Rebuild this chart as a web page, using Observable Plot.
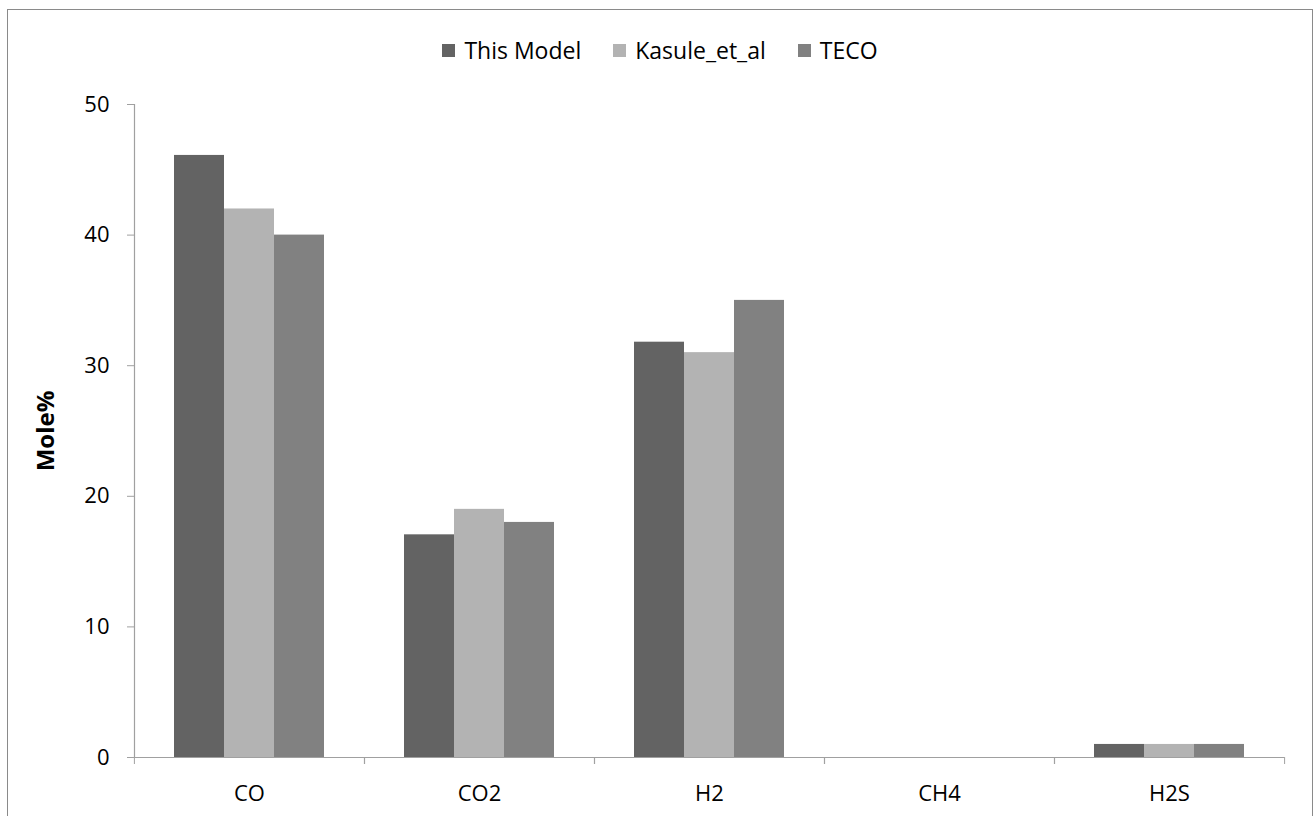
<!DOCTYPE html>
<html>
<head>
<meta charset="utf-8">
<script src="https://cdn.jsdelivr.net/npm/d3@7"></script>
<script src="https://cdn.jsdelivr.net/npm/@observablehq/plot@0.6"></script>
<style>
  html, body { margin: 0; padding: 0; background: #fff; }
  body { width: 1316px; height: 816px; overflow: hidden; position: relative; font-family: "Open Sans", sans-serif; }
  #chart {
    position: absolute; left: 7px; top: 9px; width: 1306px; height: 830px;
    border: 1px solid #8a8a8a; box-sizing: border-box; overflow: hidden;
  }
  #legend {
    height: 80px; display: flex; justify-content: center; align-items: center;
    font-size: 23px; color: #000;
  }
  #legend .item { display: flex; align-items: center; margin: 0 16px; }
  #legend .sw { width: 13px; height: 13px; margin-right: 9px; }
  svg { display: block; overflow: visible; }
</style>
</head>
<body>
<div id="chart">
  <div id="legend"></div>
</div>
<script>
// Gas composition (mole %) of the product syngas
const categories = ["CO", "CO2", "H2", "CH4", "H2S"];
const seriesNames = ["This Model", "Kasule_et_al", "TECO"];
const thisModel = [46.1, 17.05, 31.8, 0, 1];
const kasuleEtAl = [42, 19, 31, 0, 1];
const teco = [40, 18, 35, 0, 1];
const seriesColors = ["#636363", "#b3b3b3", "#818181"];
const yTicks = [0, 10, 20, 30, 40, 50];
const yTitle = "Mole%";

const seriesValues = [thisModel, kasuleEtAl, teco];
const rows = [];
categories.forEach((cat, i) => {
  seriesNames.forEach((s, j) => rows.push({cat, series: s, value: seriesValues[j][i]}));
});

// legend
const legend = document.getElementById("legend");
seriesNames.forEach((s, j) => {
  const item = document.createElement("div");
  item.className = "item";
  const sw = document.createElement("span");
  sw.className = "sw";
  sw.style.background = seriesColors[j];
  const label = document.createElement("span");
  label.textContent = s;
  item.append(sw, label);
  legend.append(item);
});

const width = 1304, height = 726;
const marginLeft = 125, marginRight = 28, marginTop = 14, marginBottom = 59;
const facetWidth = (width - marginLeft - marginRight) / categories.length;
const axisColor = "#a0a0a0";
const tickFont = 22;

const chart = Plot.plot({
  width, height, marginLeft, marginRight, marginTop, marginBottom,
  style: {fontFamily: "Open Sans, sans-serif", fontSize: `${tickFont}px`, color: "#000", background: "transparent"},
  fx: {domain: categories, padding: 0},
  x: {domain: seriesNames, paddingInner: 0, paddingOuter: 0.755, axis: null},
  y: {domain: [0, 50]},
  color: {domain: seriesNames, range: seriesColors},
  marks: [
    Plot.barY(rows, {fx: "cat", x: "series", y: "value", fill: "series", inset: 0}),
    Plot.ruleY([0], {stroke: axisColor, strokeWidth: 1.2}),
    Plot.frame({anchor: "left", facet: "super", stroke: axisColor, strokeWidth: 1.2}),
    Plot.axisY(yTicks, {
      anchor: "left", tickSize: 7, tickPadding: 18, stroke: axisColor, fill: "#000",
      label: yTitle, labelAnchor: "center", labelOffset: 98, fontSize: tickFont
    }),
    Plot.axisFx({anchor: "bottom", tickSize: 0, tickPadding: 28, label: null, fill: "#000", fontSize: tickFont}),
    Plot.axisFx({anchor: "bottom", tickSize: 7, tickFormat: () => "", label: null, stroke: axisColor, dx: -facetWidth / 2}),
    Plot.axisFx(categories.slice(-1), {anchor: "bottom", tickSize: 7, tickFormat: () => "", label: null, stroke: axisColor, dx: facetWidth / 2})
  ]
});

// bold y-axis title without the direction arrow
chart.querySelectorAll("text").forEach(t => {
  if (t.textContent.trim().startsWith(yTitle)) {
    t.textContent = yTitle;
    t.setAttribute("font-weight", "bold");
    t.setAttribute("font-size", "24");
  }
});
document.getElementById("chart").append(chart);
</script>
</body>
</html>
